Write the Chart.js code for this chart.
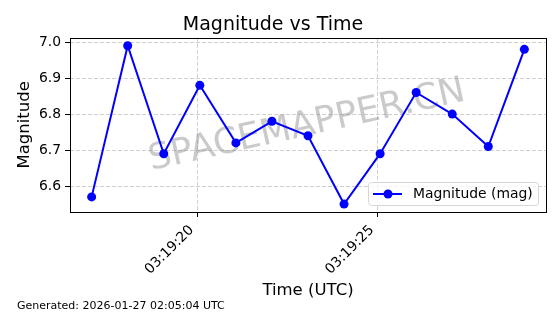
<!DOCTYPE html>
<html>
<head>
<meta charset="utf-8">
<script src="https://cdn.jsdelivr.net/npm/chart.js@4/dist/chart.umd.min.js"></script>
<style>
  html, body { margin: 0; padding: 0; background: #fff; }
  canvas { display: block; }
</style>
</head>
<body>
<canvas id="magChart" width="560" height="314"></canvas>
<script>
const times = [
    '03:19:17.06', '03:19:18.06', '03:19:19.06', '03:19:20.06', '03:19:21.06',
    '03:19:22.06', '03:19:23.06', '03:19:24.06', '03:19:25.06', '03:19:26.06',
    '03:19:27.06', '03:19:28.06', '03:19:29.06'
];
const magnitudes = [6.57, 6.99, 6.69, 6.88, 6.72, 6.78, 6.74, 6.55, 6.69, 6.86, 6.80, 6.71, 6.98];

// Tick labels
const xTickLabels = ['03:19:20', '03:19:25'];
const yTickLabels = ['6.6', '6.7', '6.8', '6.9', '7.0'];

const seriesLabel = 'Magnitude (mag)';
const generatedText = 'Generated: 2026-01-27 02:05:04 UTC';
const watermark = 'SPACEMAPPER.CN';

const colors = {
    line: '#0000ff',
    grid: '#d0d0d0',
    text: '#000000',
    frame: '#000000',
    watermark: 'rgba(128, 128, 128, 0.42)'
};

const FONT = "'DejaVu Sans', sans-serif";
Chart.defaults.font.family = FONT;
Chart.defaults.color = colors.text;

// time string -> seconds of day
function toSeconds(t) {
    const p = t.split(':');
    return (+p[0]) * 3600 + (+p[1]) * 60 + parseFloat(p[2]);
}
function fmtTime(sec) {
    const s = Math.round(sec);
    const pad = n => String(n).padStart(2, '0');
    return pad(Math.floor(s / 3600)) + ':' + pad(Math.floor(s / 60) % 60) + ':' + pad(s % 60);
}

const xs = times.map(toSeconds);
const points = xs.map((x, i) => ({ x: x, y: magnitudes[i] }));

// matplotlib-like 5% margins
function withMargin(vals) {
    const lo = Math.min(...vals), hi = Math.max(...vals);
    const m = (hi - lo) * 0.05;
    return [lo - m, hi + m];
}
const [xMin, xMax] = withMargin(xs);
const [yMin, yMax] = withMargin(magnitudes);

// frame, watermark, legend box and footer
const decorations = {
    id: 'decorations',
    beforeDatasetsDraw(chart) {
        const { ctx, chartArea: a } = chart;
        ctx.save();
        ctx.beginPath();
        ctx.rect(a.left, a.top, a.right - a.left, a.bottom - a.top);
        ctx.clip();
        ctx.translate(307, 126);
        ctx.rotate(-12.5 * Math.PI / 180);
        ctx.font = '36px ' + FONT;
        ctx.fillStyle = colors.watermark;
        ctx.textAlign = 'center';
        ctx.textBaseline = 'middle';
        ctx.fillText(watermark, 0, 0);
        ctx.restore();
    },
    afterDatasetsDraw(chart) {
        const { ctx, chartArea: a } = chart;
        ctx.save();
        // frame
        ctx.strokeStyle = colors.frame;
        ctx.lineWidth = 1;
        ctx.strokeRect(Math.round(a.left) + 0.5, Math.round(a.top) + 0.5,
            Math.round(a.right - a.left), Math.round(a.bottom - a.top));

        // legend
        const bx = 368, by = 182, bw = 170, bh = 23;
        ctx.beginPath();
        ctx.roundRect(bx + 0.5, by + 0.5, bw, bh, 3);
        ctx.fillStyle = 'rgba(255,255,255,0.8)';
        ctx.fill();
        ctx.strokeStyle = '#d6d6d6';
        ctx.stroke();
        const ly = by + bh / 2 + 0.5;
        ctx.beginPath();
        ctx.moveTo(373, ly);
        ctx.lineTo(402, ly);
        ctx.strokeStyle = colors.line;
        ctx.lineWidth = 2;
        ctx.stroke();
        ctx.beginPath();
        ctx.arc(388, ly, 4.5, 0, Math.PI * 2);
        ctx.fillStyle = colors.line;
        ctx.fill();
        ctx.fillStyle = colors.text;
        ctx.font = '13.9px ' + FONT;
        ctx.textAlign = 'left';
        ctx.textBaseline = 'middle';
        ctx.fillText(seriesLabel, 413, ly);

        // footer
        ctx.font = '11px ' + FONT;
        ctx.textBaseline = 'alphabetic';
        ctx.fillText(generatedText, 17, 309);
        ctx.restore();
    }
};

new Chart(document.getElementById('magChart'), {
    type: 'line',
    data: {
        datasets: [{
            label: seriesLabel,
            data: points,
            borderColor: colors.line,
            backgroundColor: colors.line,
            borderWidth: 2,
            pointRadius: 4.5,
            pointHoverRadius: 4.5,
            pointBorderWidth: 0,
            pointBackgroundColor: colors.line,
            tension: 0,
            clip: false
        }]
    },
    options: {
        responsive: false,
        animation: false,
        events: [],
        layout: { padding: { left: 0, right: 14, top: 0, bottom: 0 } },
        plugins: {
            legend: { display: false },
            tooltip: { enabled: false },
            title: {
                display: true,
                text: 'Magnitude vs Time',
                color: colors.text,
                font: { size: 19, weight: 'normal' },
                padding: { top: 14, bottom: 1 }
            }
        },
        scales: {
            x: {
                type: 'linear',
                min: xMin,
                max: xMax,
                afterBuildTicks: scale => {
                    scale.ticks = xTickLabels.map(t => ({ value: toSeconds(t) }));
                },
                afterFit: scale => { scale.height = 102; },
                ticks: {
                    callback: v => fmtTime(v),
                    minRotation: 45,
                    maxRotation: 45,
                    autoSkip: false,
                    padding: 5,
                    labelOffset: -6,
                    font: { size: 13.9 },
                    color: colors.text
                },
                grid: {
                    color: colors.grid,
                    lineWidth: 1,
                    tickLength: 5,
                    tickColor: colors.frame,
                    tickBorderDash: [],
                    tickWidth: 1
                },
                border: { display: false, dash: [4, 2] },
                title: {
                    display: true,
                    text: 'Time (UTC)',
                    color: colors.text,
                    font: { size: 16.5 },
                    padding: { top: 0, bottom: 13 }
                }
            },
            y: {
                min: yMin,
                max: yMax,
                afterBuildTicks: scale => {
                    scale.ticks = yTickLabels.map(t => ({ value: parseFloat(t) }));
                },
                afterFit: scale => { scale.width = 70; },
                ticks: {
                    callback: v => v.toFixed(1),
                    padding: 4,
                    font: { size: 13.9 },
                    color: colors.text
                },
                grid: {
                    color: colors.grid,
                    lineWidth: 1,
                    tickLength: 5,
                    tickColor: colors.frame,
                    tickBorderDash: [],
                    tickWidth: 1
                },
                border: { display: false, dash: [4, 2] },
                title: {
                    display: true,
                    text: 'Magnitude',
                    color: colors.text,
                    font: { size: 16.5 },
                    padding: { top: 15, bottom: 0 }
                }
            }
        }
    },
    plugins: [decorations]
});
</script>
</body>
</html>
